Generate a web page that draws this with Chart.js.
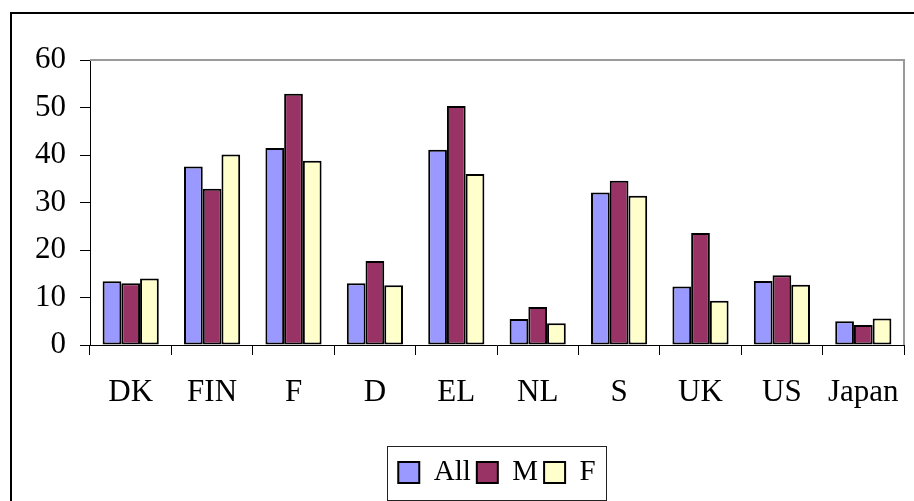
<!DOCTYPE html>
<html>
<head>
<meta charset="utf-8">
<script src="https://cdn.jsdelivr.net/npm/chart.js@4"></script>
<style>
  html, body { margin: 0; padding: 0; background: #fff; overflow: hidden; }
  #wrap { width: 914px; height: 501px; }
  canvas { display: block; }
</style>
</head>
<body>
<div id="wrap"><canvas id="barchart" width="914" height="501"></canvas></div>
<script>
var countries = ["DK", "FIN", "F", "D", "EL", "NL", "S", "UK", "US", "Japan"];
var allValues = [13.4, 37.6, 41.5, 13.0, 41.1, 5.5, 32.1, 12.3, 13.5, 5.0];
var maleValues = [13.0, 32.9, 52.9, 17.7, 50.3, 8.0, 34.6, 23.6, 14.7, 4.2];
var femaleValues = [14.0, 40.1, 38.8, 12.6, 36.0, 4.6, 31.4, 9.3, 12.7, 5.6];
var yTicks = [0, 10, 20, 30, 40, 50, 60];

var serif = "'Liberation Serif', 'Times New Roman', serif";

// outer frame, plot frame (top/right) and the box around the legend
var framePlugin = {
  id: 'frames',
  afterLayout: function(chart) {
    var lg = chart.legend;
    var pad = lg.options.labels.padding;
    lg.left = chart.chartArea.left;
    lg.right = chart.chartArea.right;
    lg.width = lg.right - lg.left;
    var h = lg.bottom - lg.top;
    lg.top = 458 - pad;
    lg.bottom = lg.top + h;
  },
  afterDraw: function(chart) {
    var ctx = chart.ctx;
    var a = chart.chartArea;
    ctx.save();
    ctx.strokeStyle = '#9a9a9a';
    ctx.lineWidth = 2;
    ctx.beginPath();
    ctx.moveTo(a.left, a.top);
    ctx.lineTo(a.right, a.top);
    ctx.lineTo(a.right, a.bottom);
    ctx.stroke();

    ctx.strokeStyle = '#000';
    ctx.lineWidth = 2;
    ctx.strokeRect(11, 13, 1000, 1000);

    var lg = chart.legend;
    var pad = lg.options.labels.padding;
    var lw = lg.lineWidths[0];
    var start = (lg.left + pad + lg.right - lw) / 2;
    var end = start + lw - pad;
    var midY = lg.top + pad + 29 / 2;
    ctx.lineWidth = 1;
    ctx.strokeStyle = '#222';
    ctx.strokeRect(Math.round(start - 11) + 0.5, Math.round(midY - 27) + 0.5, Math.round(end - start + 22), 54);
    ctx.restore();
  }
};

new Chart(document.getElementById("barchart"), {
  type: 'bar',
  data: {
    labels: countries,
    datasets: [{
      label: "All",
      data: allValues,
      backgroundColor: "#9999ff",
      borderColor: "#000",
      borderWidth: 2,
      borderSkipped: false
    }, {
      label: "M",
      data: maleValues,
      backgroundColor: "#993366",
      borderColor: "#000",
      borderWidth: 2,
      borderSkipped: false
    }, {
      label: "F",
      data: femaleValues,
      backgroundColor: "#ffffcc",
      borderColor: "#000",
      borderWidth: 2,
      borderSkipped: false
    }]
  },
  options: {
    responsive: false,
    animation: false,
    categoryPercentage: 0.69,
    barPercentage: 1.0,
    layout: { padding: { left: 12, right: 10, top: 60, bottom: 0 } },
    plugins: {
      tooltip: { enabled: false },
      legend: {
        position: 'bottom',
        labels: {
          boxWidth: 21,
          boxHeight: 21,
          padding: 6,
          color: '#000',
          font: { family: serif, size: 29 }
        }
      }
    },
    scales: {
      x: {
        afterFit: function(s) {
          s.height = 111;
          s.paddingLeft = 0;
          s.paddingRight = 0;
        },
        grid: {
          offset: true,
          drawOnChartArea: false,
          tickLength: 10,
          tickColor: '#000',
          tickWidth: 1
        },
        border: { color: '#000', width: 1 },
        ticks: {
          padding: 19,
          color: '#000',
          maxRotation: 0,
          font: { family: serif, size: 31 }
        }
      },
      y: {
        min: 0,
        max: 60,
        afterFit: function(s) {
          s.width = 78;
          s.paddingTop = 0;
          s.paddingBottom = 0;
        },
        afterBuildTicks: function(s) {
          s.ticks = yTicks.map(function(v) { return { value: v }; });
        },
        grid: {
          drawOnChartArea: false,
          tickLength: 10,
          tickColor: '#000',
          tickWidth: 1
        },
        border: { color: '#000', width: 1 },
        ticks: {
          padding: 14,
          color: '#000',
          font: { family: serif, size: 31 }
        }
      }
    }
  },
  plugins: [framePlugin]
});
</script>
</body>
</html>
